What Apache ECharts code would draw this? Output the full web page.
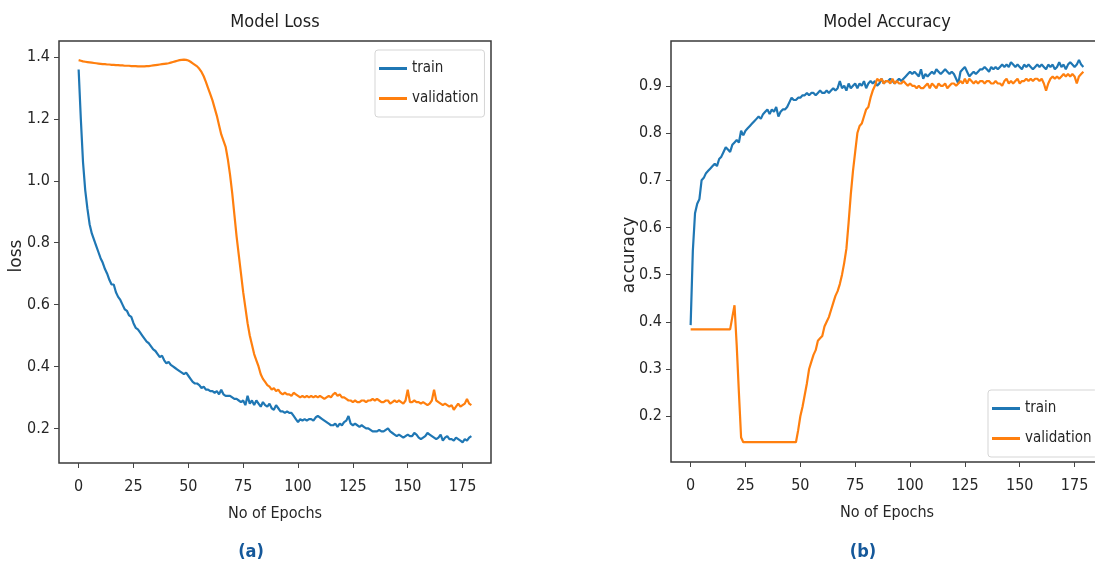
<!DOCTYPE html>
<html>
<head>
<meta charset="utf-8">
<script src="https://cdn.jsdelivr.net/npm/echarts@6/dist/echarts.min.js"></script>
<style>
html,body{margin:0;padding:0;background:#fff;}
#chart{width:1095px;height:563px;}
</style>
</head>
<body>
<div id="chart"></div>
<script>
// ---- data ----
const epochTicks = [0, 25, 50, 75, 100, 125, 150, 175];
const lossTicks = [0.2, 0.4, 0.6, 0.8, 1.0, 1.2, 1.4];
const accTicks = [0.2, 0.3, 0.4, 0.5, 0.6, 0.7, 0.8, 0.9];
const seriesNames = ['train', 'validation'];

const trainLoss = [
  1.36, 1.20, 1.06, 0.97, 0.91, 0.86, 0.83, 0.81, 0.79, 0.77,
  0.75, 0.735, 0.715, 0.70, 0.68, 0.665, 0.665, 0.64, 0.625, 0.615,
  0.60, 0.585, 0.58, 0.565, 0.56, 0.54, 0.525, 0.52, 0.51, 0.50,
  0.49, 0.48, 0.475, 0.465, 0.455, 0.45, 0.44, 0.43, 0.435, 0.42,
  0.41, 0.415, 0.405, 0.40, 0.395, 0.39, 0.385, 0.38, 0.375, 0.38,
  0.37, 0.36, 0.35, 0.345, 0.345, 0.34, 0.33, 0.335, 0.325, 0.325,
  0.32, 0.32, 0.315, 0.32, 0.31, 0.325, 0.31, 0.305, 0.305, 0.305,
  0.30, 0.295, 0.295, 0.29, 0.285, 0.29, 0.275, 0.305, 0.28, 0.29,
  0.275, 0.29, 0.28, 0.27, 0.285, 0.275, 0.27, 0.28, 0.265, 0.26,
  0.275, 0.265, 0.255, 0.255, 0.25, 0.255, 0.25, 0.25, 0.24, 0.23,
  0.22, 0.23, 0.225, 0.23, 0.225, 0.23, 0.23, 0.225, 0.235, 0.24,
  0.235, 0.23, 0.225, 0.22, 0.215, 0.21, 0.21, 0.215, 0.205, 0.215,
  0.21, 0.22, 0.225, 0.24, 0.215, 0.21, 0.215, 0.21, 0.205, 0.21,
  0.205, 0.20, 0.20, 0.195, 0.19, 0.19, 0.19, 0.195, 0.19, 0.19,
  0.195, 0.20, 0.19, 0.185, 0.18, 0.175, 0.18, 0.175, 0.17, 0.175,
  0.18, 0.175, 0.175, 0.185, 0.18, 0.17, 0.165, 0.17, 0.175, 0.185,
  0.18, 0.175, 0.17, 0.165, 0.17, 0.18, 0.16, 0.17, 0.175, 0.165,
  0.165, 0.16, 0.17, 0.165, 0.16, 0.155, 0.165, 0.16, 0.17, 0.175
];
const valLoss = [
  1.39, 1.388, 1.386, 1.385, 1.384, 1.383, 1.382, 1.381, 1.380, 1.379,
  1.378, 1.377, 1.377, 1.376, 1.376, 1.375, 1.375, 1.374, 1.374, 1.373,
  1.373, 1.372, 1.372, 1.372, 1.371, 1.371, 1.371, 1.370, 1.370, 1.370,
  1.370, 1.371, 1.371, 1.372, 1.373, 1.374, 1.375, 1.376, 1.377, 1.378,
  1.379, 1.380, 1.382, 1.384, 1.386, 1.388, 1.390, 1.391, 1.392, 1.391,
  1.389, 1.385, 1.380, 1.375, 1.370, 1.362, 1.352, 1.338, 1.32, 1.30,
  1.28, 1.26, 1.235, 1.21, 1.18, 1.15, 1.13, 1.11, 1.07, 1.02,
  0.96, 0.89, 0.82, 0.76, 0.70, 0.64, 0.59, 0.54, 0.50, 0.47,
  0.44, 0.42, 0.40, 0.375, 0.36, 0.35, 0.34, 0.335, 0.325, 0.33,
  0.32, 0.325, 0.315, 0.31, 0.315, 0.31, 0.31, 0.305, 0.315, 0.31,
  0.305, 0.30, 0.305, 0.30, 0.305, 0.30, 0.305, 0.30, 0.305, 0.30,
  0.305, 0.30, 0.295, 0.30, 0.305, 0.30, 0.31, 0.315, 0.305, 0.31,
  0.30, 0.30, 0.295, 0.29, 0.29, 0.285, 0.29, 0.285, 0.285, 0.29,
  0.29, 0.285, 0.29, 0.29, 0.295, 0.29, 0.295, 0.29, 0.285, 0.285,
  0.29, 0.29, 0.28, 0.285, 0.29, 0.285, 0.29, 0.285, 0.28, 0.29,
  0.325, 0.285, 0.285, 0.29, 0.285, 0.285, 0.28, 0.285, 0.28, 0.275,
  0.28, 0.29, 0.325, 0.29, 0.285, 0.28, 0.275, 0.28, 0.275, 0.27,
  0.275, 0.26, 0.27, 0.28, 0.27, 0.275, 0.28, 0.295, 0.28, 0.275
];
const trainAcc = [
  0.393, 0.55, 0.63, 0.65, 0.66, 0.70, 0.705, 0.715, 0.72, 0.725,
  0.73, 0.735, 0.73, 0.745, 0.75, 0.76, 0.77, 0.765, 0.76, 0.775,
  0.78, 0.785, 0.78, 0.805, 0.795, 0.805, 0.81, 0.815, 0.82, 0.825,
  0.83, 0.835, 0.83, 0.84, 0.845, 0.85, 0.84, 0.85, 0.845, 0.855,
  0.835, 0.845, 0.85, 0.85, 0.855, 0.865, 0.875, 0.87, 0.87, 0.875,
  0.875, 0.88, 0.88, 0.885, 0.88, 0.885, 0.885, 0.88, 0.885, 0.89,
  0.885, 0.885, 0.89, 0.885, 0.89, 0.895, 0.89, 0.895, 0.91, 0.895,
  0.90, 0.89, 0.905, 0.895, 0.90, 0.905, 0.895, 0.905, 0.90, 0.91,
  0.895, 0.905, 0.91, 0.905, 0.91, 0.90, 0.905, 0.915, 0.905, 0.91,
  0.91, 0.915, 0.91, 0.905, 0.91, 0.915, 0.91, 0.915, 0.92, 0.925,
  0.93, 0.925, 0.93, 0.925, 0.92, 0.935, 0.915, 0.925, 0.92, 0.925,
  0.93, 0.925, 0.935, 0.93, 0.925, 0.93, 0.935, 0.93, 0.925, 0.93,
  0.925, 0.915, 0.905, 0.93, 0.935, 0.94, 0.93, 0.92, 0.925, 0.93,
  0.925, 0.93, 0.935, 0.935, 0.94, 0.935, 0.93, 0.94, 0.935, 0.94,
  0.935, 0.94, 0.945, 0.94, 0.945, 0.94, 0.95, 0.945, 0.94, 0.945,
  0.94, 0.935, 0.945, 0.94, 0.945, 0.94, 0.935, 0.94, 0.945, 0.94,
  0.945, 0.94, 0.935, 0.945, 0.94, 0.945, 0.935, 0.94, 0.95, 0.94,
  0.945, 0.935, 0.945, 0.95, 0.945, 0.94, 0.945, 0.955, 0.945, 0.94
];
const valAcc = [
  0.384, 0.384, 0.384, 0.384, 0.384, 0.384, 0.384, 0.384, 0.384, 0.384,
  0.384, 0.384, 0.384, 0.384, 0.384, 0.384, 0.384, 0.384, 0.384, 0.41,
  0.435, 0.35, 0.25, 0.155, 0.145, 0.145, 0.145, 0.145, 0.145, 0.145,
  0.145, 0.145, 0.145, 0.145, 0.145, 0.145, 0.145, 0.145, 0.145, 0.145,
  0.145, 0.145, 0.145, 0.145, 0.145, 0.145, 0.145, 0.145, 0.145, 0.17,
  0.20, 0.22, 0.245, 0.27, 0.30, 0.315, 0.33, 0.34, 0.36, 0.365,
  0.37, 0.39, 0.40, 0.41, 0.425, 0.44, 0.455, 0.465, 0.48, 0.50,
  0.525, 0.555, 0.61, 0.67, 0.72, 0.76, 0.80, 0.815, 0.82, 0.835,
  0.85, 0.855, 0.875, 0.89, 0.90, 0.915, 0.91, 0.915, 0.905, 0.91,
  0.91, 0.905, 0.915, 0.905, 0.91, 0.905, 0.905, 0.91, 0.905, 0.90,
  0.905, 0.90, 0.90, 0.895, 0.90, 0.895, 0.895, 0.90, 0.905, 0.895,
  0.905, 0.90, 0.895, 0.905, 0.90, 0.90, 0.905, 0.895, 0.90, 0.905,
  0.905, 0.90, 0.905, 0.91, 0.905, 0.915, 0.905, 0.915, 0.91, 0.905,
  0.91, 0.905, 0.91, 0.91, 0.905, 0.91, 0.91, 0.905, 0.905, 0.91,
  0.905, 0.905, 0.90, 0.91, 0.915, 0.905, 0.91, 0.905, 0.91, 0.915,
  0.905, 0.91, 0.91, 0.915, 0.91, 0.915, 0.91, 0.915, 0.915, 0.91,
  0.915, 0.905, 0.89, 0.905, 0.915, 0.92, 0.915, 0.92, 0.915, 0.92,
  0.925, 0.92, 0.925, 0.92, 0.925, 0.92, 0.905, 0.92, 0.925, 0.93
];

// ---- chart ----
const FONT = "'DejaVu Sans Condensed', 'DejaVu Sans', sans-serif";
const FONT_ROT = "'DejaVu Sans', sans-serif";
const BLUE = '#1f77b4', ORANGE = '#ff7f0e';
const TXT = '#262626';
const toXY = arr => arr.map((v, i) => [i, v]);

function xAxisCfg(gridIndex) {
  return {
    type: 'value', gridIndex: gridIndex, min: -8.95, max: 187.95,
    name: 'No of Epochs', nameLocation: 'middle', nameGap: 43,
    nameTextStyle: {fontFamily: FONT, fontSize: 16, color: TXT},
    axisLine: {show: false, onZero: false},
    splitLine: {show: false},
    axisTick: {show: true, inside: false, length: 5, customValues: epochTicks,
      lineStyle: {color: '#444', width: 1}},
    axisLabel: {show: true, customValues: epochTicks, margin: 16,
      fontFamily: FONT, fontSize: 16, color: TXT}
  };
}
function yAxisCfg(gridIndex, min, max, ticks) {
  return {
    type: 'value', gridIndex: gridIndex, min: min, max: max,
    axisLine: {show: false, onZero: false},
    splitLine: {show: false},
    axisTick: {show: true, inside: false, length: 5, customValues: ticks,
      lineStyle: {color: '#444', width: 1}},
    axisLabel: {show: true, customValues: ticks, margin: 9,
      fontFamily: FONT, fontSize: 16, color: TXT,
      formatter: v => Number(v).toFixed(1)}
  };
}
function yName(text, x, y) {
  return {
    type: 'text', x: x, y: y, rotation: Math.PI / 2, silent: true,
    style: {text: text, align: 'center', verticalAlign: 'middle',
      fontFamily: FONT_ROT, fontSize: 17, fill: TXT}
  };
}
function lineSeries(name, data, color, xi, yi) {
  return {
    name: name, type: 'line', data: toXY(data), xAxisIndex: xi, yAxisIndex: yi,
    showSymbol: false, symbol: 'none', smooth: false, animation: false,
    lineStyle: {color: color, width: 2.2}, itemStyle: {color: color}
  };
}
function legendCfg(left, top) {
  return {
    data: seriesNames, orient: 'vertical', left: left, top: top,
    itemWidth: 28, itemHeight: 14, itemGap: 15,
    padding: [11, 6, 11, 4],
    borderColor: '#d5d5d5', borderWidth: 1, borderRadius: 3,
    backgroundColor: 'rgba(255,255,255,0.8)',
    textStyle: {fontFamily: FONT, fontSize: 15, color: TXT},
    icon: 'path://M0,5.5 L28,5.5 L28,8.5 L0,8.5 Z'
  };
}

const chart = echarts.init(document.getElementById('chart'), null, {renderer: 'canvas'});
chart.setOption({
  backgroundColor: '#fff',
  animation: false,
  title: [
    {text: 'Model Loss', left: 275, top: 13, padding: 0, textAlign: 'center',
      textStyle: {fontFamily: FONT, fontSize: 18, fontWeight: 'normal', color: '#1e1e1e'}},
    {text: 'Model Accuracy', left: 887, top: 13, padding: 0, textAlign: 'center',
      textStyle: {fontFamily: FONT, fontSize: 18, fontWeight: 'normal', color: '#1e1e1e'}},
    {text: '(a)', left: 251, top: 543, padding: 0, textAlign: 'center',
      textStyle: {fontFamily: FONT, fontSize: 18, fontWeight: 'bold', color: '#15589a'}},
    {text: '(b)', left: 863, top: 543, padding: 0, textAlign: 'center',
      textStyle: {fontFamily: FONT, fontSize: 18, fontWeight: 'bold', color: '#15589a'}}
  ],
  graphic: [yName('loss', 17, 256), yName('accuracy', 630, 255)],
  legend: [legendCfg(375, 50), legendCfg(988, 390)],
  grid: [
    {left: 59, top: 41, width: 432, height: 422, containLabel: false, outerBoundsMode: 'none',
      show: true, borderColor: '#3a3a3a', borderWidth: 1.5, backgroundColor: 'transparent'},
    {left: 671, top: 41, width: 432, height: 421, containLabel: false, outerBoundsMode: 'none',
      show: true, borderColor: '#3a3a3a', borderWidth: 1.5, backgroundColor: 'transparent'}
  ],
  xAxis: [xAxisCfg(0), xAxisCfg(1)],
  yAxis: [
    yAxisCfg(0, 0.088, 1.452, lossTicks),
    yAxisCfg(1, 0.103, 0.995, accTicks)
  ],
  series: [
    lineSeries('train', trainLoss, BLUE, 0, 0),
    lineSeries('validation', valLoss, ORANGE, 0, 0),
    lineSeries('train', trainAcc, BLUE, 1, 1),
    lineSeries('validation', valAcc, ORANGE, 1, 1)
  ]
});
</script>
</body>
</html>
